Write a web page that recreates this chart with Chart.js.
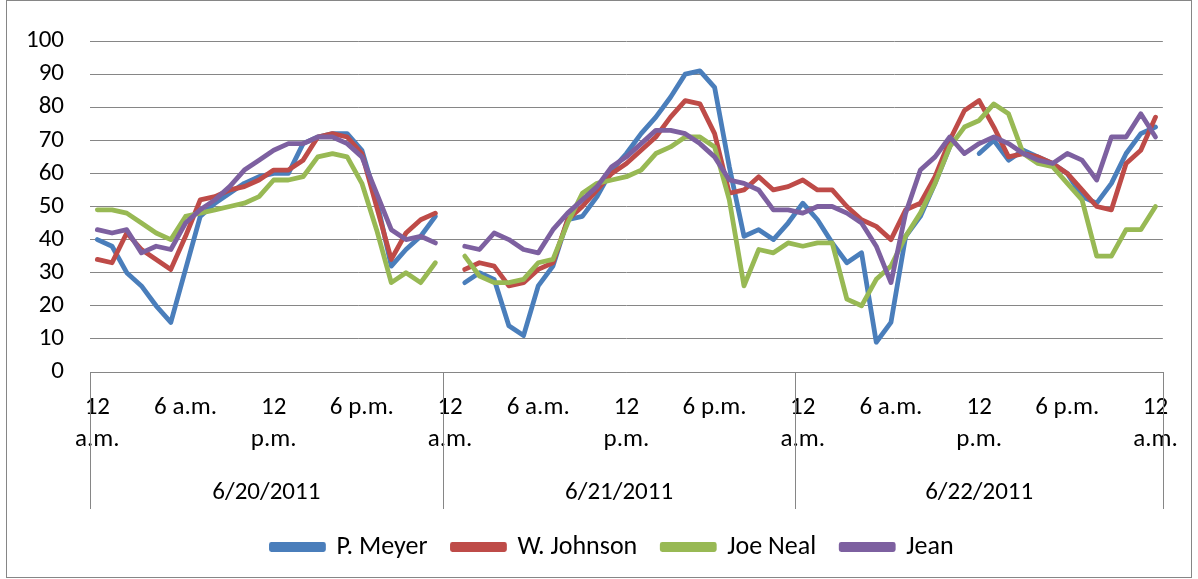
<!DOCTYPE html>
<html>
<head>
<meta charset="utf-8">
<script src="https://cdn.jsdelivr.net/npm/chart.js@4/dist/chart.umd.min.js"></script>
<style>
  html, body { margin: 0; padding: 0; background: #fff; }
  canvas { display: block; }
</style>
</head>
<body>
<canvas id="c" width="1198" height="579"></canvas>
<script>
// Hourly temperature readings, three days, one row per observer
const days = ['6/20/2011', '6/21/2011', '6/22/2011'];
const hoursPerDay = [24, 24, 25];
const tickLabels = ['12 a.m.', '6 a.m.', '12 p.m.', '6 p.m.'];
const seriesNames = ['P. Meyer', 'W. Johnson', 'Joe Neal', 'Jean'];
const seriesColors = ['#4A7EBB', '#BE4B48', '#98B954', '#7D60A0'];

const meyer = [
  40, 38, 30, 26, 20, 15, 31, 47, 51, 54, 57, 59, 60, 60, 69, 71, 72, 72, 67, 52, 32, 37, 41, 47,
  null, 27, 30, 28, 14, 11, 26, 32, 46, 47, 53, 61, 66, 72, 77, 83, 90, 91, 86, 62, 41, 43, 40, 45,
  51, 46, 39, 33, 36, 9, 15, 41, 47, 57, 68, null, 66, 70, 64, 67, 65, 63, 60, 53, 51, 57, 66, 72, 74
];
const johnson = [
  34, 33, 42, 37, 34, 31, 41, 52, 53, 55, 56, 58, 61, 61, 64, 71, 72, 71, 66, 50, 34, 42, 46, 48,
  null, 31, 33, 32, 26, 27, 31, 33, 46, 50, 55, 60, 63, 67, 71, 77, 82, 81, 72, 54, 55, 59, 55, 56,
  58, 55, 55, 50, 46, 44, 40, 49, 51, 59, 70, 79, 82, 74, 65, 66, 65, 63, 60, 55, 50, 49, 63, 67, 77
];
const neal = [
  49, 49, 48, 45, 42, 40, 47, 48, 49, 50, 51, 53, 58, 58, 59, 65, 66, 65, 57, 43, 27, 30, 27, 33,
  null, 35, 29, 27, 27, 28, 33, 34, 45, 54, 57, 58, 59, 61, 66, 68, 71, 71, 68, 52, 26, 37, 36, 39,
  38, 39, 39, 22, 20, 28, 32, 41, 48, 57, 68, 74, 76, 81, 78, 66, 63, 62, 57, 52, 35, 35, 43, 43, 50
];
const jean = [
  43, 42, 43, 36, 38, 37, 45, 49, 52, 56, 61, 64, 67, 69, 69, 71, 71, 69, 65, 54, 43, 40, 41, 39,
  null, 38, 37, 42, 40, 37, 36, 43, 48, 52, 56, 62, 65, 69, 73, 73, 72, 69, 65, 58, 57, 55, 49, 49,
  48, 50, 50, 48, 45, 38, 27, 48, 61, 65, 71, 66, 69, 71, 69, 66, 64, 63, 66, 64, 58, 71, 71, 78, 71
];

const FONT = 'Carlito, Lato, sans-serif';

// Category list: one entry per hour, grouped by day
function hourName(h) {
  const hr = h % 12 === 0 ? 12 : h % 12;
  return hr + (h % 24 < 12 ? ' a.m.' : ' p.m.');
}
const categories = [];
const hourOfIndex = [];
hoursPerDay.forEach(n => {
  for (let h = 0; h < n; h++) { categories.push(hourName(h)); hourOfIndex.push(h); }
});

// Outer frame of the chart
const framePlugin = {
  id: 'frame',
  beforeDraw(chart) {
    const ctx = chart.ctx;
    ctx.save();
    ctx.fillStyle = '#fff';
    ctx.fillRect(0, 0, chart.width, chart.height);
    ctx.strokeStyle = '#868686';
    ctx.lineWidth = 1;
    ctx.strokeRect(6.5, 0.5, chart.width - 13, chart.height - 2);
    ctx.restore();
  }
};

// Legend row sits centred under the plot area rather than the whole canvas
const legendShiftPlugin = {
  id: 'legendShift',
  afterLayout(chart) {
    const lg = chart.legend;
    if (!lg) return;
    const shift = 29;
    lg.left += shift;
    lg.right += shift;
  }
};

// Day separators and date row under the hour labels
const dayGroupPlugin = {
  id: 'dayGroups',
  afterDraw(chart) {
    const { ctx, chartArea } = chart;
    const x = chart.scales.x;
    const half = (x.getPixelForValue(1) - x.getPixelForValue(0)) / 2;
    const edges = [x.getPixelForValue(0) - half];
    let count = 0;
    hoursPerDay.forEach(n => { count += n; edges.push(x.getPixelForValue(count - 1) + half); });
    ctx.save();
    ctx.strokeStyle = '#868686';
    ctx.lineWidth = 1;
    edges.forEach(px => {
      const xx = Math.round(px) + 0.5;
      ctx.beginPath();
      ctx.moveTo(xx, chartArea.bottom);
      ctx.lineTo(xx, x.bottom);
      ctx.stroke();
    });
    ctx.fillStyle = '#000';
    ctx.font = '25px ' + FONT;
    ctx.textAlign = 'center';
    ctx.textBaseline = 'middle';
    days.forEach((d, k) => ctx.fillText(d, (edges[k] + edges[k + 1]) / 2, x.bottom - 16));
    ctx.restore();
  }
};

const seriesValues = [meyer, johnson, neal, jean];
const datasets = seriesNames.map((name, k) => ({
  label: name,
  data: seriesValues[k],
  borderColor: seriesColors[k],
  backgroundColor: seriesColors[k],
  borderWidth: 4.8,
  pointRadius: 0,
  pointHoverRadius: 0,
  tension: 0,
  spanGaps: false,
  borderJoinStyle: 'round',
  borderCapStyle: 'round',
  order: seriesNames.length - k
}));

new Chart(document.getElementById('c'), {
  type: 'line',
  data: { labels: categories, datasets },
  plugins: [framePlugin, legendShiftPlugin, dayGroupPlugin],
  options: {
    responsive: false,
    animation: false,
    events: [],
    layout: { padding: { top: 40, right: 31, left: 0, bottom: 9 } },
    scales: {
      x: {
        offset: true,
        grid: { display: false, drawTicks: false },
        border: { display: true, color: '#868686', width: 1 },
        ticks: {
          autoSkip: false,
          maxRotation: 0,
          minRotation: 0,
          padding: 20,
          color: '#000',
          font: { family: FONT, size: 25, lineHeight: 1.28 },
          callback(value, index) {
            const h = hourOfIndex[index];
            if (h % 6 !== 0) return '';
            const text = tickLabels[(h / 6) % 4];
            return text.startsWith('12') ? text.split(' ') : text;
          }
        },
        afterFit(scale) { scale.height = 137; }
      },
      y: {
        min: 0,
        max: 100,
        grid: { color: '#868686', lineWidth: 1, drawTicks: false },
        border: { display: false },
        ticks: {
          stepSize: 10,
          autoSkip: false,
          padding: 26,
          color: '#000',
          font: { family: FONT, size: 25 }
        },
        afterFit(scale) { scale.width = 90; }
      }
    },
    plugins: {
      legend: {
        position: 'bottom',
        labels: {
          boxWidth: 52,
          boxHeight: 5,
          padding: 25,
          color: '#000',
          font: { family: FONT, size: 26 },
          sort: (a, b) => a.datasetIndex - b.datasetIndex
        }
      },
      tooltip: { enabled: false }
    }
  }
});
</script>
</body>
</html>
